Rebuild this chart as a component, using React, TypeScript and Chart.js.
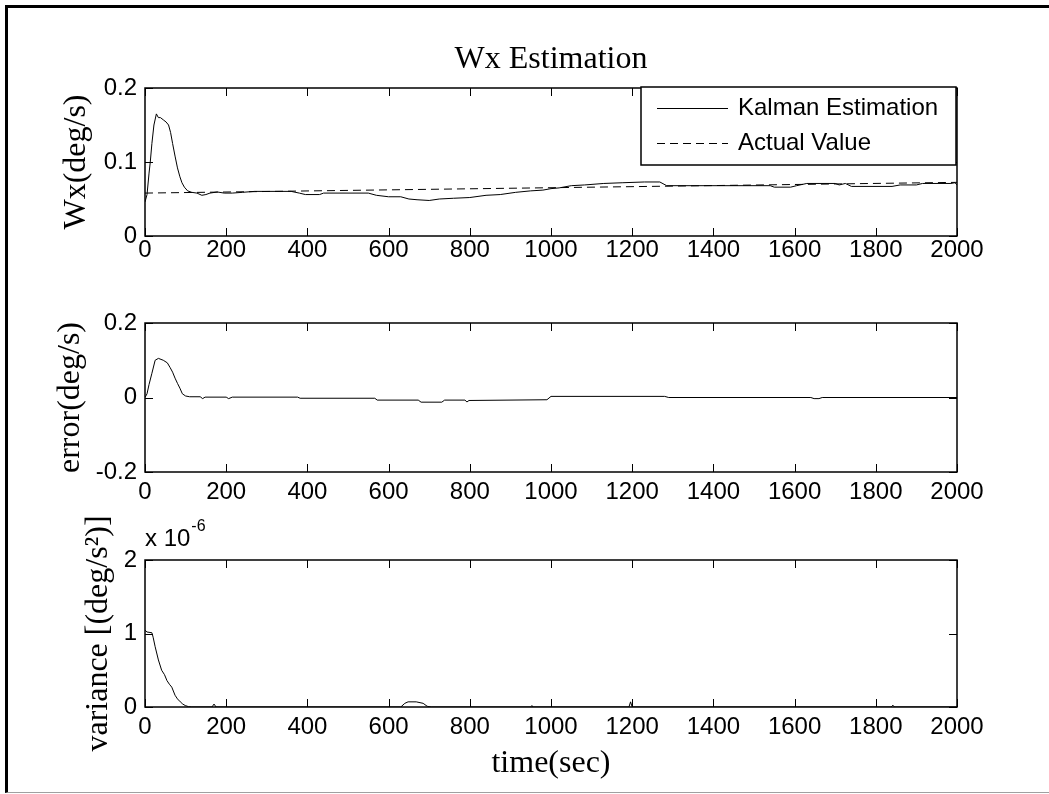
import React, { useEffect, useRef } from 'react';
import { Chart, registerables } from 'chart.js';

Chart.register(...registerables);

// ---------- data ----------
const xTicks = [0, 200, 400, 600, 800, 1000, 1200, 1400, 1600, 1800, 2000];
const wxTicks = [0, 0.1, 0.2];
const errTicks = [-0.2, 0, 0.2];
const varTicks = [0, 1e-6, 2e-6];

const estTime = [0, 5, 10, 13, 17, 22, 28, 33, 38, 45, 52, 58, 63, 68, 74, 80, 86, 91, 97, 105, 115, 128, 140, 150, 160, 178, 195, 215, 240, 270, 360, 380, 395, 430, 440, 550, 570, 600, 630, 650, 670, 700, 725, 760, 800, 840, 875, 913, 950, 980, 1000, 1020, 1050, 1083, 1130, 1177, 1230, 1268, 1285, 1540, 1550, 1590, 1605, 1630, 1700, 1710, 1725, 1740, 1840, 1860, 1900, 1915, 1985, 1995, 2000];
const estValue = [0.046, 0.056, 0.085, 0.1, 0.125, 0.15, 0.165, 0.16, 0.16, 0.157, 0.154, 0.15, 0.14, 0.125, 0.108, 0.092, 0.08, 0.072, 0.066, 0.061, 0.059, 0.058, 0.055, 0.056, 0.058, 0.0595, 0.058, 0.058, 0.059, 0.0603, 0.0603, 0.058, 0.056, 0.056, 0.058, 0.058, 0.055, 0.053, 0.053, 0.05, 0.049, 0.048, 0.05, 0.051, 0.052, 0.055, 0.056, 0.059, 0.061, 0.062, 0.064, 0.065, 0.068, 0.069, 0.071, 0.072, 0.073, 0.073, 0.068, 0.068, 0.066, 0.066, 0.068, 0.071, 0.071, 0.069, 0.071, 0.067, 0.067, 0.069, 0.069, 0.071, 0.071, 0.072, 0.069];

const actualTime = [0, 2000];
const actualValue = [0.058, 0.0725];

const errTime = [0, 5, 10, 17, 25, 33, 45, 55, 62, 68, 74, 80, 86, 92, 100, 110, 136, 142, 148, 200, 206, 215, 376, 382, 566, 572, 673, 680, 731, 738, 788, 793, 798, 990, 1000, 1280, 1290, 1640, 1648, 1660, 1668, 2000];
const errValue = [0, 0.01, 0.035, 0.065, 0.1, 0.105, 0.1, 0.093, 0.08, 0.068, 0.052, 0.038, 0.025, 0.01, 0.004, 0.002, 0.002, -0.003, 0.001, 0.001, -0.003, 0.001, 0.001, -0.002, -0.002, -0.007, -0.007, -0.0125, -0.0125, -0.007, -0.007, -0.012, -0.008, -0.006, 0.003, 0.003, 0, 0, -0.003, -0.003, 0, 0];

const varTime = [0, 5, 17, 20, 25, 33, 41, 48, 54, 60, 66, 74, 80, 87, 93, 99, 107, 115, 165, 170, 175, 630, 640, 648, 668, 685, 695, 705, 950, 953, 956, 1192, 1196, 1200, 1838, 1842, 1846, 2000];
const varValue = [1.045e-6, 1.02e-6, 1.01e-6, 0.95e-6, 0.82e-6, 0.64e-6, 0.5e-6, 0.44e-6, 0.36e-6, 0.31e-6, 0.27e-6, 0.16e-6, 0.11e-6, 0.07e-6, 0.04e-6, 0.02e-6, 0.005e-6, 0, 0, 0.04e-6, 0, 0, 0.05e-6, 0.07e-6, 0.07e-6, 0.05e-6, 0.01e-6, 0, 0, 0.02e-6, 0, 0, 0.07e-6, 0, 0, 0.025e-6, 0, 0];

// ---------- helpers ----------
const SANS = '"Liberation Sans", Arial, sans-serif';
const SERIF = '"Liberation Serif", "Times New Roman", serif';
const tickFont = { family: SANS, size: 24, lineHeight: 1 };
const labelFont = { family: SERIF, size: 32, lineHeight: 1, weight: 'normal' as const };

const toXY = (ts: number[], vs: number[]) => ts.map((t, i) => ({ x: t, y: vs[i] }));

const frameTicks = {
  id: 'frameTicks',
  afterDatasetsDraw(chart: any) {
    const { ctx, chartArea } = chart;
    const { left, right, top, bottom } = chartArea;
    const xs = chart.scales.x;
    const ys = chart.scales.y;
    const L = 8;
    ctx.save();
    ctx.strokeStyle = '#000';
    ctx.lineWidth = 1;
    ctx.beginPath();
    xs.ticks.forEach((t: any) => {
      const px = Math.round(xs.getPixelForValue(t.value)) + 0.5;
      ctx.moveTo(px, bottom);
      ctx.lineTo(px, bottom - L);
      ctx.moveTo(px, top);
      ctx.lineTo(px, top + L);
    });
    ys.ticks.forEach((t: any) => {
      const py = Math.round(ys.getPixelForValue(t.value)) + 0.5;
      ctx.moveTo(left, py);
      ctx.lineTo(left + L, py);
      ctx.moveTo(right, py);
      ctx.lineTo(right - L, py);
    });
    ctx.stroke();
    ctx.lineWidth = 1.5;
    ctx.strokeRect(left, top, right - left, bottom - top);
    ctx.restore();
  },
};

const boxLegend = {
  id: 'boxLegend',
  afterDraw(chart: any) {
    const { ctx, chartArea } = chart;
    const bx = chartArea.left + 496;
    const by = chartArea.top - 1;
    const bw = 315;
    const bh = 78;
    ctx.save();
    ctx.fillStyle = '#fff';
    ctx.fillRect(bx, by, bw, bh);
    ctx.strokeStyle = '#000';
    ctx.lineWidth = 1.5;
    ctx.strokeRect(bx, by, bw, bh);
    ctx.font = `24px ${SANS}`;
    ctx.fillStyle = '#000';
    ctx.textBaseline = 'middle';
    chart.data.datasets.forEach((ds: any, i: number) => {
      const cy = by + 21 + i * 35 + 0.5;
      ctx.beginPath();
      ctx.lineWidth = 1;
      ctx.setLineDash(ds.borderDash || []);
      ctx.moveTo(bx + 16, cy);
      ctx.lineTo(bx + 87, cy);
      ctx.stroke();
      ctx.setLineDash([]);
      ctx.fillText(ds.label, bx + 97, cy);
    });
    ctx.restore();
  },
};

const expLabel = {
  id: 'expLabel',
  afterDraw(chart: any) {
    const { ctx, chartArea } = chart;
    ctx.save();
    ctx.fillStyle = '#000';
    ctx.textBaseline = 'alphabetic';
    ctx.font = `24px ${SANS}`;
    const base = 'x 10';
    ctx.fillText(base, chartArea.left, chartArea.top - 14);
    const w = ctx.measureText(base).width;
    ctx.font = `16px ${SANS}`;
    ctx.fillText('-6', chartArea.left + w + 1, chartArea.top - 29);
    ctx.restore();
  },
};

function makeOptions(p: {
  padTop: number;
  xHeight: number;
  xPad: number;
  yTicks: number[];
  yFmt: (v: number) => string;
  yTitle: string;
  yTitlePad: number;
  title?: string;
  xTitle?: string;
}) {
  return {
    responsive: false,
    animation: false as const,
    events: [] as any[],
    layout: { padding: { left: 0, right: 92, top: p.padTop, bottom: 0 } },
    plugins: {
      legend: { display: false },
      tooltip: { enabled: false },
      title: p.title
        ? {
            display: true,
            fullSize: false,
            text: p.title,
            color: '#000',
            font: labelFont,
            padding: { top: 44, bottom: 12 },
          }
        : { display: false },
    },
    scales: {
      x: {
        type: 'linear' as const,
        min: 0,
        max: 2000,
        grid: { display: false, drawTicks: false },
        border: { display: false },
        afterBuildTicks: (s: any) => {
          s.ticks = xTicks.map((v) => ({ value: v }));
        },
        afterFit: (s: any) => {
          s.height = p.xHeight;
        },
        ticks: {
          color: '#000',
          font: tickFont,
          padding: p.xPad,
          maxRotation: 0,
          autoSkip: false,
          callback: (v: any) => String(v),
        },
        title: p.xTitle
          ? {
              display: true,
              text: p.xTitle,
              color: '#000',
              font: labelFont,
              padding: { top: 0, bottom: 14 },
            }
          : { display: false },
      },
      y: {
        type: 'linear' as const,
        min: p.yTicks[0],
        max: p.yTicks[p.yTicks.length - 1],
        grid: { display: false, drawTicks: false },
        border: { display: false },
        afterBuildTicks: (s: any) => {
          s.ticks = p.yTicks.map((v) => ({ value: v }));
        },
        afterFit: (s: any) => {
          s.width = 145;
        },
        ticks: {
          color: '#000',
          font: tickFont,
          padding: 8,
          callback: (v: any) => p.yFmt(Number(v)),
        },
        title: {
          display: true,
          text: p.yTitle,
          color: '#000',
          font: labelFont,
          padding: { top: p.yTitlePad, bottom: 0 },
        },
      },
    },
  };
}

const lineStyle = {
  borderColor: '#000',
  borderWidth: 1,
  pointRadius: 0,
  fill: false,
  tension: 0,
};

function Panel(props: { top: number; height: number; build: () => any }) {
  const ref = useRef<HTMLCanvasElement | null>(null);
  useEffect(() => {
    if (!ref.current) return;
    const chart = new Chart(ref.current, props.build());
    return () => chart.destroy();
  }, []);
  return (
    <canvas
      ref={ref}
      width={1049}
      height={props.height}
      style={{ position: 'absolute', left: 0, top: props.top, width: 1049, height: props.height }}
    />
  );
}

const fmtDec = (v: number) => (Math.abs(v) < 1e-12 ? '0' : v.toFixed(1));
const fmtVar = (v: number) => String(Math.round(v * 1e6));

export default function App() {
  return (
    <div
      style={{
        position: 'absolute',
        left: 0,
        top: 0,
        width: 1049,
        height: 794,
        overflow: 'hidden',
        background: '#fff',
      }}
    >
      <div
        style={{
          position: 'absolute',
          left: 5,
          top: 5,
          width: 1100,
          height: 784,
          borderTop: '3px solid #000',
          borderLeft: '3px solid #000',
          borderBottom: '1px solid #a0a0a0',
        }}
      />
      <Panel
        top={0}
        height={280}
        build={() => ({
          type: 'line',
          data: {
            datasets: [
              { label: 'Kalman Estimation', data: toXY(estTime, estValue), ...lineStyle },
              { label: 'Actual Value', data: toXY(actualTime, actualValue), ...lineStyle, borderDash: [8, 5] },
            ],
          },
          options: makeOptions({
            padTop: 0,
            xHeight: 44,
            xPad: 2,
            yTicks: wxTicks,
            yFmt: fmtDec,
            yTitle: 'Wx(deg/s)',
            yTitlePad: 61,
            title: 'Wx Estimation',
          }),
          plugins: [frameTicks, boxLegend],
        })}
      />
      <Panel
        top={280}
        height={230}
        build={() => ({
          type: 'line',
          data: {
            datasets: [{ label: 'error', data: toXY(errTime, errValue), ...lineStyle }],
          },
          options: makeOptions({
            padTop: 43,
            xHeight: 38,
            xPad: 8,
            yTicks: errTicks,
            yFmt: fmtDec,
            yTitle: 'error(deg/s)',
            yTitlePad: 55,
          }),
          plugins: [frameTicks],
        })}
      />
      <Panel
        top={510}
        height={284}
        build={() => ({
          type: 'line',
          data: {
            datasets: [{ label: 'variance', data: toXY(varTime, varValue), ...lineStyle }],
          },
          options: makeOptions({
            padTop: 50,
            xHeight: 87,
            xPad: 8,
            yTicks: varTicks,
            yFmt: fmtVar,
            yTitle: 'variance [(deg/s\u00B2)]',
            yTitlePad: 83,
            xTitle: 'time(sec)',
          }),
          plugins: [frameTicks, expLabel],
        })}
      />
    </div>
  );
}
